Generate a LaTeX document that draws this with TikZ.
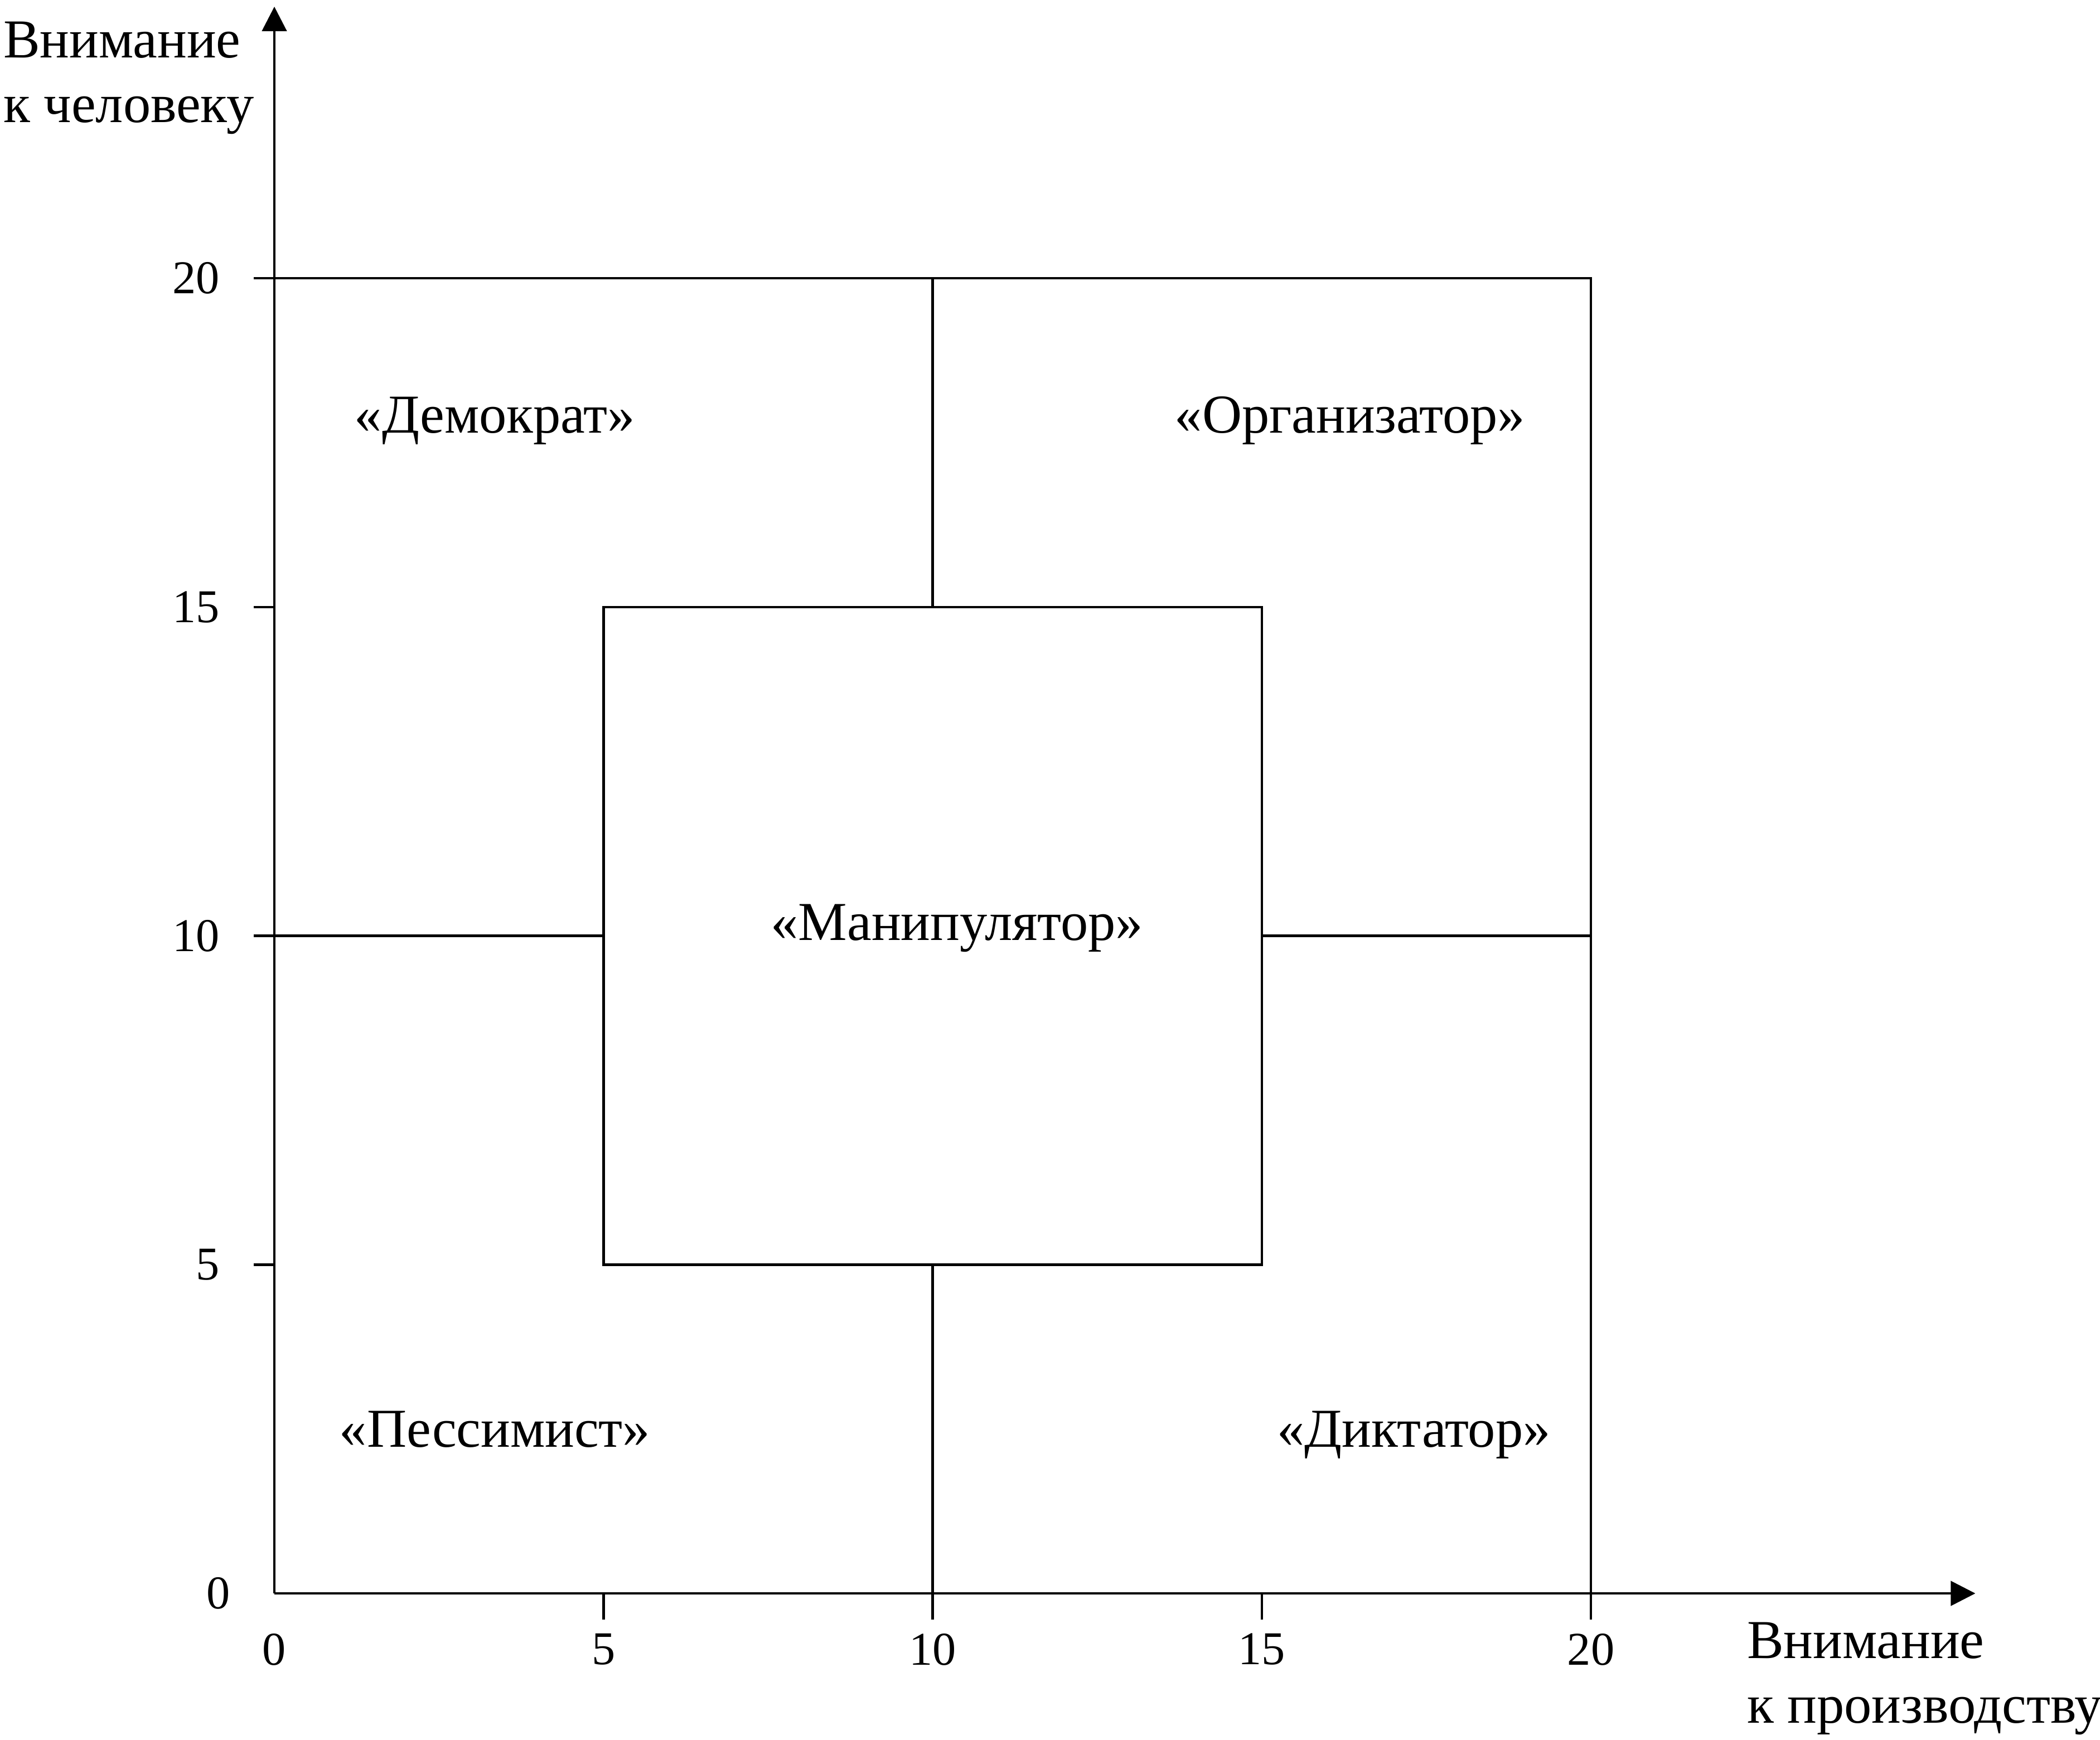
\documentclass[tikz,border=0pt]{standalone}
\usepackage{fontspec}
\setmainfont{Liberation Serif}
\usetikzlibrary{arrows.meta}

\tikzset{
    axislabel/.style={align=left, inner sep=0pt, anchor=north west, font=\fontsize{28}{33}\selectfont},
    ticklabel/.style={inner sep=0pt, font=\fontsize{24}{28}\selectfont},
    typelabel/.style={anchor=base, inner sep=0pt, font=\fontsize{28}{33}\selectfont},
    axisarrow/.style={-{Triangle[length=4.4mm, width=4.4mm]}}
}

\begin{document}
\begin{tikzpicture}[x=1.1805cm, y=1.1795cm, line width=1.3pt]
    \useasboundingbox (-4.168,-2.221) rectangle (27.734,24.231);
    % axes
    \draw[axisarrow] (0,0) -- (0,24.13);
    \draw[axisarrow] (0,0) -- (25.84,0);
    \node[axislabel] (ylab) at (-4.134,23.92) {Внимание\\к человеку};
    \node[axislabel] (xlab) at (22.355,-0.424) {Внимание\\к производству};
    % ticks and numbers
    \foreach \v in {5,10,15,20} {
        \draw (-0.31,\v) -- (0,\v);
        \draw (\v,0) -- (\v,-0.4);
        \node[ticklabel, anchor=east] (y\v) at (-0.813,\v) {\v};
        \node[ticklabel, anchor=north] (x\v) at (\v,-0.593) {\v};
    }
    \node[ticklabel, anchor=east] (y0) at (-0.653,0) {0};
    \node[ticklabel, anchor=north] (x0) at (0,-0.593) {0};
    % grid of styles
    \draw (0,20) -- (20,20) -- (20,0);
    \draw (5,5) rectangle (15,15);
    \draw (10,15) -- (10,20);
    \draw (10,0) -- (10,5);
    \draw (0,10) -- (5,10);
    \draw (15,10) -- (20,10);
    % styles
    \node[typelabel] (democrat) at (3.35,17.65) {«Демократ»};
    \node[typelabel] (organizer) at (16.34,17.65) {«Организатор»};
    \node[typelabel] (manipulator) at (10.37,9.93) {«Манипулятор»};
    \node[typelabel] (pessimist) at (3.35,2.23) {«Пессимист»};
    \node[typelabel] (dictator) at (17.31,2.23) {«Диктатор»};
\end{tikzpicture}
\end{document}
